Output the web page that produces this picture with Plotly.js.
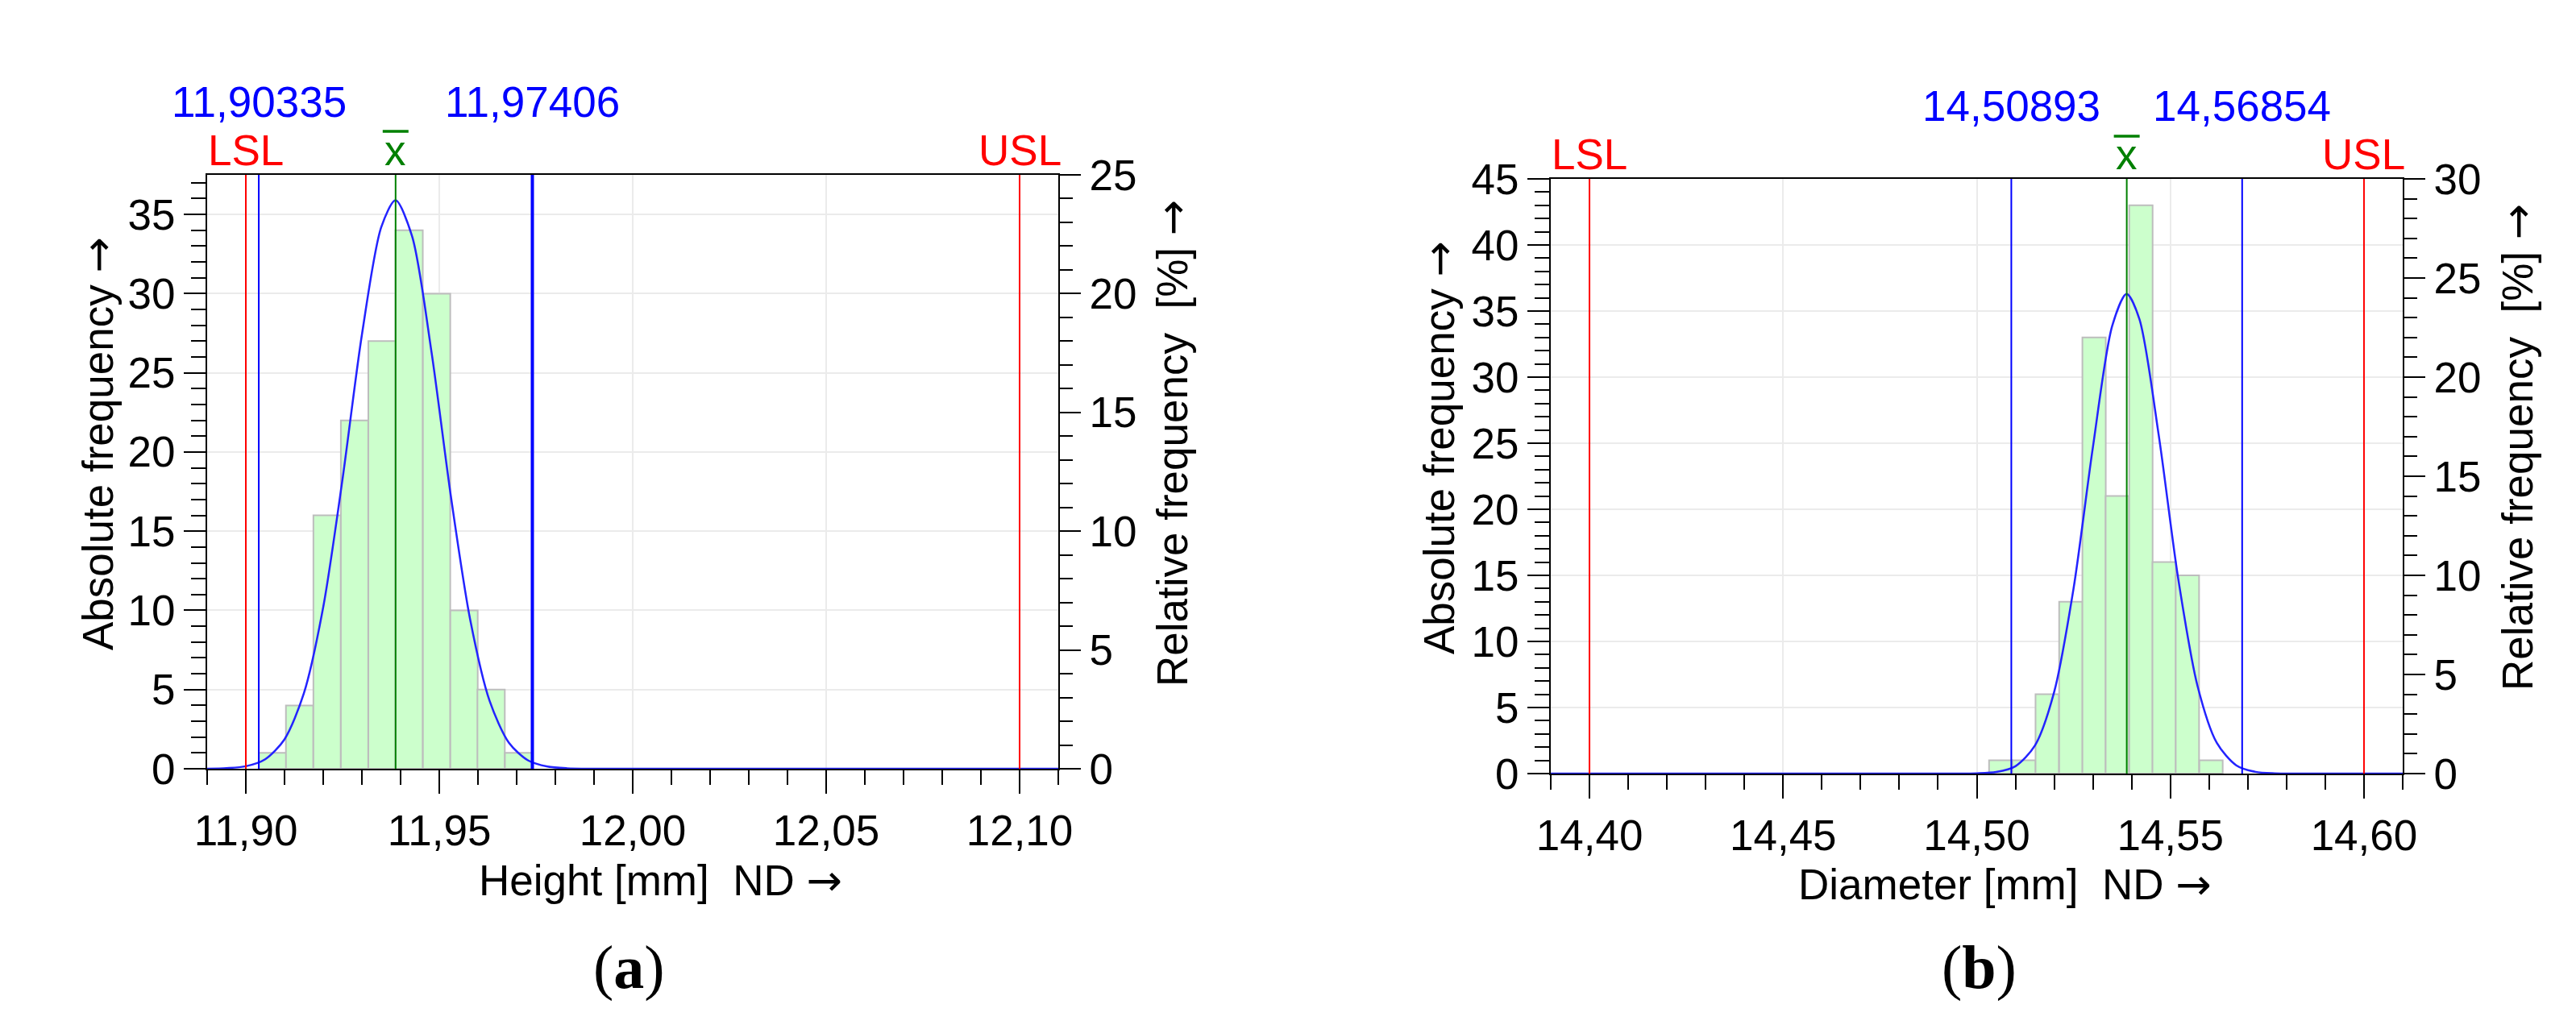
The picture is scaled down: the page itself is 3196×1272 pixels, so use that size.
<!DOCTYPE html>
<html>
<head>
<meta charset="utf-8">
<script src="https://cdn.plot.ly/plotly-3.0.1.min.js"></script>
<style>
  html, body { margin: 0; padding: 0; background: #fff; }
  #chart { width: 3196px; height: 1272px; }
</style>
</head>
<body>
<div id="chart"></div>
<script>
// (a) Height [mm]
const heightBins = [11.9069, 11.9139, 11.9210, 11.9281, 11.9352, 11.9422, 11.9493, 11.9564, 11.9634, 11.9705];
const heightCounts = [1, 4, 16, 22, 27, 34, 30, 10, 5, 1];
const heightBinWidth = 0.00707;
const heightCurveX = [11.890, 11.895, 11.900, 11.905, 11.910, 11.915, 11.920, 11.925, 11.930, 11.935, 11.9387,
    11.943, 11.948, 11.953, 11.958, 11.963, 11.968, 11.973, 11.978, 11.983, 11.990, 12.110];
const heightCurveY = [0, 0.04, 0.16, 0.60, 1.86, 4.76, 10.2, 18.3, 27.4, 34.2, 35.9,
    33.6, 26.3, 17.2, 9.4, 4.29, 1.64, 0.52, 0.14, 0.03, 0, 0];
const heightSpec = [11.90, 12.10];          // LSL, USL
const heightNatural = [11.90335, 11.97406]; // lower, upper
const heightNaturalText = ['11,90335', '11,97406'];
const heightMean = 11.93871;

// (b) Diameter [mm]
const diamBins = [14.5062, 14.5122, 14.5182, 14.5243, 14.5303, 14.5363, 14.5424, 14.5484, 14.5544, 14.5605];
const diamCounts = [1, 1, 6, 13, 33, 21, 43, 16, 15, 1];
const diamBinWidth = 0.00603;
const diamCurveX = [14.390, 14.495, 14.500, 14.505, 14.510, 14.515, 14.520, 14.525, 14.530, 14.535, 14.5387,
    14.542, 14.547, 14.552, 14.557, 14.562, 14.567, 14.572, 14.577, 14.582, 14.610];
const diamCurveY = [0, 0, 0.02, 0.12, 0.56, 2.11, 6.18, 14.0, 24.7, 33.9, 36.3,
    34.4, 25.6, 14.8, 6.65, 2.32, 0.63, 0.13, 0.02, 0, 0];
const diamSpec = [14.40, 14.60];
const diamNatural = [14.50893, 14.56854];
const diamNaturalText = ['14,50893', '14,56854'];
const diamMean = 14.53874;

const W = 3196;
const H = 1272;
const RED = '#ff0000';
const BLUE = '#0000ff';
const GREEN = '#008000';
const SANS = 'Liberation Sans, Arial, sans-serif';
const SERIF = 'Liberation Serif, Times New Roman, serif';
const tickFont = { family: SANS, size: 53, color: '#000' };
const ARROW = '<span style="font-family:DejaVu Sans">→</span>';

// pixel helpers (margins are zero, so paper == page)
const px = (x) => x / W;
const py = (y) => 1 - y / H;

function histTrace(x, y, width, xa, ya) {
    return {
        type: 'bar', x, y, width, xaxis: xa, yaxis: ya,
        marker: { color: '#ccffcc', line: { color: '#bdbdbd', width: 2 } },
        showlegend: false, hoverinfo: 'x+y',
    };
}

function curveTrace(x, y, xa, ya) {
    return {
        type: 'scatter', mode: 'lines', x, y, xaxis: xa, yaxis: ya,
        line: { color: '#2323ff', width: 2.5, shape: 'spline', smoothing: 0.8 },
        showlegend: false, hoverinfo: 'skip',
    };
}

function xAxis(domain, anchor, range, tick0) {
    return {
        domain, anchor, range, tick0, dtick: 0.05, tickformat: '.2f',
        ticks: 'outside', ticklen: 29, tickwidth: 2, tickcolor: '#000', tickfont: tickFont,
        minor: { tick0, dtick: 0.01, ticks: 'outside', ticklen: 18, tickwidth: 2, tickcolor: '#000', showgrid: false },
        showgrid: true, gridcolor: '#ebebeb', gridwidth: 2,
        showline: true, linecolor: '#000', linewidth: 2, mirror: true,
        zeroline: false, layer: 'below traces', fixedrange: true, automargin: false,
    };
}

function absAxis(domain, anchor, range) {
    return {
        domain, anchor, range, dtick: 5,
        ticks: 'outside', ticklen: 27, tickwidth: 2, tickcolor: '#000', tickfont: tickFont,
        minor: { dtick: 1, ticks: 'outside', ticklen: 18, tickwidth: 2, tickcolor: '#000', showgrid: false },
        showgrid: true, gridcolor: '#ebebeb', gridwidth: 2,
        showline: true, linecolor: '#000', linewidth: 2,
        zeroline: false, fixedrange: true, automargin: false,
    };
}

function relAxis(overlaying, anchor, range) {
    return {
        overlaying, anchor, side: 'right', range, dtick: 5,
        ticks: 'outside', ticklen: 26, tickwidth: 2, tickcolor: '#000', tickfont: tickFont,
        minor: { dtick: 1, ticks: 'outside', ticklen: 16, tickwidth: 2, tickcolor: '#000', showgrid: false },
        showgrid: false, showline: true, linecolor: '#000', linewidth: 2,
        zeroline: false, fixedrange: true, automargin: false,
    };
}

function vline(xref, yref, x, color, width) {
    return {
        type: 'line', xref, yref: yref + ' domain', x0: x, x1: x, y0: 0, y1: 1,
        line: { color, width }, layer: 'above',
    };
}

function overline(xref, x, yPix) {
    return {
        type: 'line', xref, xsizemode: 'pixel', xanchor: x, x0: -16, x1: 16,
        yref: 'paper', y0: py(yPix), y1: py(yPix), line: { color: GREEN, width: 3.5 },
    };
}

function label(xref, x, yPix, text, color) {
    return {
        xref, yref: 'paper', x, y: py(yPix), text, showarrow: false,
        xanchor: 'center', yanchor: 'middle',
        font: { family: SANS, size: 53, color },
    };
}

function axisTitle(xPix, yPix, text, angle) {
    return {
        xref: 'paper', yref: 'paper', x: px(xPix), y: py(yPix), text, showarrow: false,
        xanchor: 'center', yanchor: 'middle', textangle: angle,
        font: { family: SANS, size: 53, color: '#000' },
    };
}

function caption(xPix, text) {
    return {
        xref: 'paper', yref: 'paper', x: px(xPix), y: py(1200), text, showarrow: false,
        xanchor: 'center', yanchor: 'middle',
        font: { family: SERIF, size: 76, color: '#000' },
    };
}

const data = [
    histTrace(heightBins, heightCounts, heightBinWidth, 'x', 'y'),
    curveTrace(heightCurveX, heightCurveY, 'x', 'y'),
    { type: 'scatter', x: [], y: [], xaxis: 'x', yaxis: 'y2', showlegend: false },
    histTrace(diamBins, diamCounts, diamBinWidth, 'x2', 'y3'),
    curveTrace(diamCurveX, diamCurveY, 'x2', 'y3'),
    { type: 'scatter', x: [], y: [], xaxis: 'x2', yaxis: 'y4', showlegend: false },
];

const shapes = [
    vline('x', 'y', heightSpec[0], RED, 2),
    vline('x', 'y', heightSpec[1], RED, 2),
    vline('x', 'y', heightNatural[0], BLUE, 2),
    vline('x', 'y', heightNatural[1], BLUE, 4),
    vline('x', 'y', heightMean, GREEN, 2),
    overline('x', heightMean, 163),
    vline('x2', 'y3', diamSpec[0], RED, 2),
    vline('x2', 'y3', diamSpec[1], RED, 2),
    vline('x2', 'y3', diamNatural[0], BLUE, 2),
    vline('x2', 'y3', diamNatural[1], BLUE, 2),
    vline('x2', 'y3', diamMean, GREEN, 2),
    overline('x2', diamMean, 169),
];

const annotations = [
    label('x', heightNatural[0], 126, heightNaturalText[0], BLUE),
    label('x', heightNatural[1], 126, heightNaturalText[1], BLUE),
    label('x', heightSpec[0], 186, 'LSL', RED),
    label('x', heightSpec[1], 186, 'USL', RED),
    label('x', heightMean, 186, 'x', GREEN),
    label('x2', diamNatural[0], 132, diamNaturalText[0], BLUE),
    label('x2', diamNatural[1], 132, diamNaturalText[1], BLUE),
    label('x2', diamSpec[0], 191, 'LSL', RED),
    label('x2', diamSpec[1], 191, 'USL', RED),
    label('x2', diamMean, 191, 'x', GREEN),

    axisTitle(122, 551, 'Absolute frequency ' + ARROW, -90),
    axisTitle(1454, 550, 'Relative frequency\u00a0\u00a0[%] ' + ARROW, -90),
    axisTitle(819, 1092, 'Height [mm]\u00a0\u00a0ND ' + ARROW, 0),
    axisTitle(1785, 555, 'Absolute frequency ' + ARROW, -90),
    axisTitle(3123, 555, 'Relative frequency\u00a0\u00a0[%] ' + ARROW, -90),
    axisTitle(2487, 1097, 'Diameter [mm]\u00a0\u00a0ND ' + ARROW, 0),

    caption(780, '(<b>a</b>)'),
    caption(2455, '(<b>b</b>)'),
];

const layout = {
    width: W,
    height: H,
    margin: { t: 0, r: 0, b: 0, l: 0, pad: 0 },
    paper_bgcolor: '#ffffff',
    plot_bgcolor: '#ffffff',
    separators: ', ',
    showlegend: false,
    barmode: 'overlay',
    xaxis: xAxis([px(257), px(1313)], 'y', [11.89, 12.11], 11.90),
    yaxis: absAxis([py(954), py(217)], 'x', [0, 37.5]),
    yaxis2: relAxis('y', 'x', [0, 25]),
    xaxis2: xAxis([px(1924), px(2981)], 'y3', [14.39, 14.61], 14.40),
    yaxis3: absAxis([py(960), py(222)], 'x2', [0, 45]),
    yaxis4: relAxis('y3', 'x2', [0, 30]),
    shapes,
    annotations,
};

Plotly.newPlot('chart', data, layout, { displayModeBar: false, staticPlot: true });
</script>
</body>
</html>
